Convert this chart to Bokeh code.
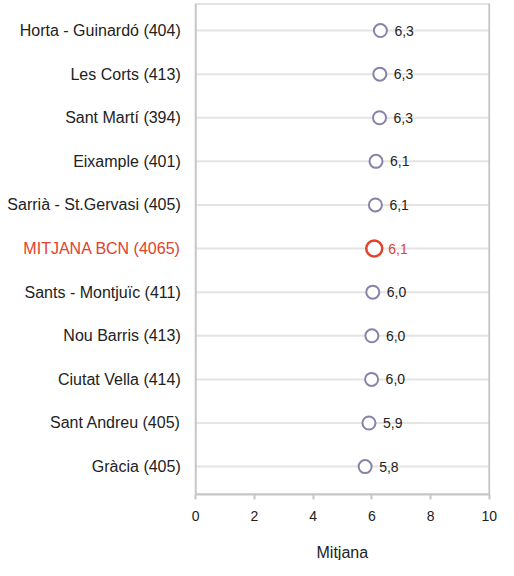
from bokeh.plotting import figure
from bokeh.models import Range1d, FixedTicker, ColumnDataSource, Title
from bokeh.core.properties import value
from bokeh.embed import file_html
from bokeh.resources import INLINE

districts = ["Horta - Guinardó", "Les Corts", "Sant Martí", "Eixample",
             "Sarrià - St.Gervasi", "MITJANA BCN", "Sants - Montjuïc",
             "Nou Barris", "Ciutat Vella", "Sant Andreu", "Gràcia"]
counts = [404, 413, 394, 401, 405, 4065, 411, 413, 414, 405, 405]
means = [6.29, 6.27, 6.26, 6.14, 6.12, 6.08, 6.03, 6.00, 5.99, 5.90, 5.77]
x_ticks = [0, 2, 4, 6, 8, 10]
x_title = "Mitjana"
highlight = "MITJANA BCN"

FONT = "Liberation Sans"
PURPLE = "#8a82a8"
RED = "#e2412c"
DARK = "#222222"
BOX = "#c6c6c6"
GRID = "#e4e4e4"

n = len(districts)
ypos = list(range(n))
tick_labels = [f"{d} ({c})" for d, c in zip(districts, counts)]
val_labels = [f"{m:.1f}".replace(".", ",") for m in means]
is_hl = [d == highlight for d in districts]

x0, x1 = x_ticks[0], x_ticks[-1]
y_top, y_bot = -0.62, n - 1 + 0.64
xr0, xr1 = -6.65, 10.04
W, BL, BR = 498, 0, 8
frame_w = W - BL - BR
box_mid_px = ((x0 + x1) / 2 - xr0) / (xr1 - xr0) * frame_w
title_offset = box_mid_px - 26  # approx half of the title's text width

p = figure(width=W, height=560, output_backend="svg", toolbar_location=None,
           x_range=Range1d(xr0, xr1), y_range=Range1d(y_bot, y_top),
           min_border_left=BL, min_border_right=BR, min_border_top=3,
           min_border_bottom=0)

p.outline_line_color = None
p.xgrid.grid_line_color = None
p.ygrid.grid_line_color = None
p.yaxis.visible = False

# x axis
p.xaxis.ticker = FixedTicker(ticks=x_ticks)
p.xaxis.bounds = (x0, x1)
p.xaxis.major_label_text_font = FONT
p.xaxis.major_label_text_font_size = "14px"
p.xaxis.major_label_text_color = DARK
p.xaxis.major_label_standoff = 11
p.xaxis.axis_line_color = BOX
p.xaxis.axis_line_width = 2
p.xaxis.major_tick_line_color = BOX
p.xaxis.major_tick_line_width = 2
p.xaxis.major_tick_in = 0
p.xaxis.major_tick_out = 5
p.xaxis.minor_tick_line_color = None

# spacer between tick labels and axis title
p.add_layout(Title(text=" ", text_font_size="1px", standoff=15), "below")
# axis title, centred under the plotting box
p.add_layout(Title(text=x_title, align="left", offset=title_offset,
                   text_font=FONT, text_font_size="16px",
                   text_font_style="normal", text_color=DARK,
                   standoff=0), "below")

# grid lines across the plotting box
p.segment(x0=[x0] * n, x1=[x1] * n, y0=ypos, y1=ypos,
          line_color=GRID, line_width=2)

# plot box
p.quad(left=[x0], right=[x1], top=[y_top], bottom=[y_bot],
       fill_color=None, line_color=BOX, line_width=2)

src = ColumnDataSource(dict(
    x=means, y=ypos, lab=val_labels, cat=tick_labels, x0=[x0] * n,
    col=[RED if h else PURPLE for h in is_hl],
    tcol=[RED if h else DARK for h in is_hl],
    size=[16 if h else 13 for h in is_hl],
    lw=[2.5 if h else 2 for h in is_hl],
))

# category labels
p.text("x0", "y", text="cat", source=src, x_offset=-15, text_align="right",
       text_baseline="middle", text_font=value(FONT), text_font_size="16px",
       text_color="tcol")

p.scatter("x", "y", source=src, marker="circle", size="size",
          fill_color="white", line_color="col", line_width="lw")
p.text("x", "y", text="lab", source=src, x_offset=14, text_align="left",
       text_baseline="middle", text_font=value(FONT), text_font_size="14px",
       text_color="tcol")

open("out.html", "w").write(file_html(p, INLINE))
